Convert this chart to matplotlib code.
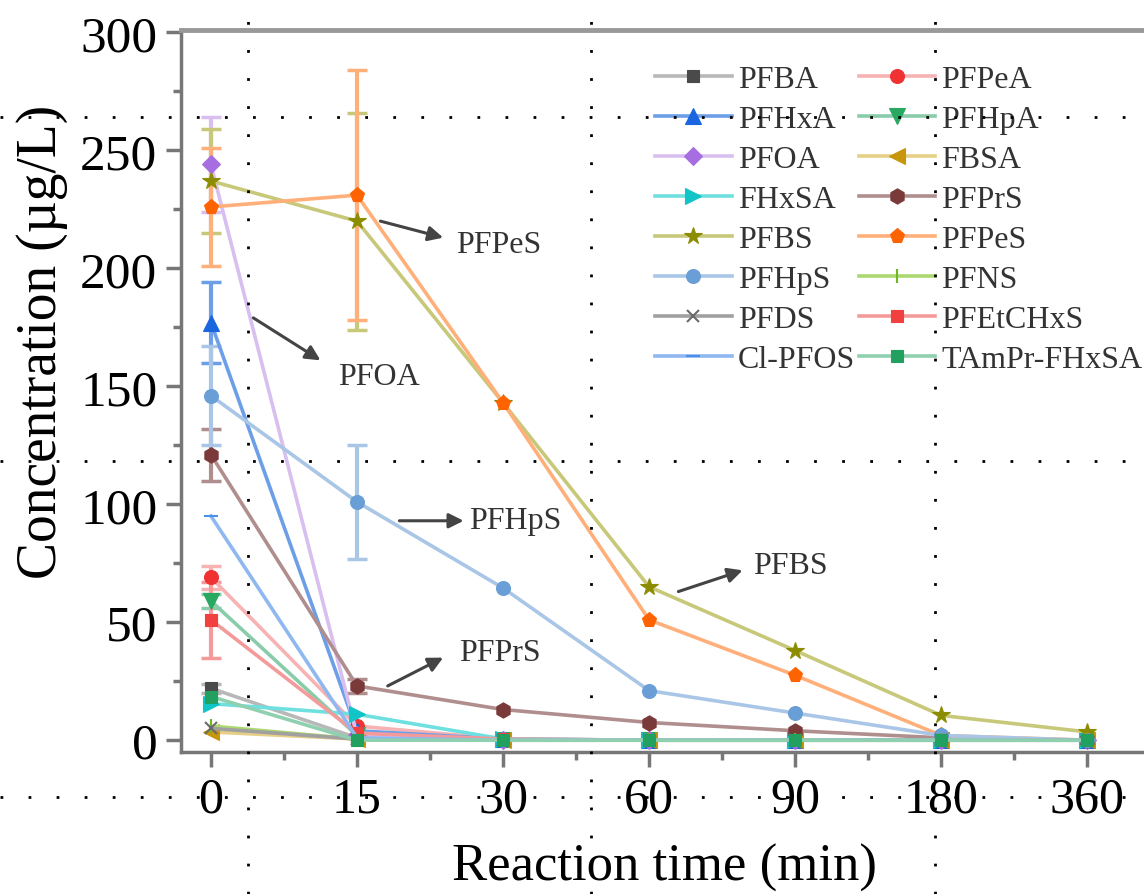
import matplotlib
matplotlib.use("Agg")
import matplotlib.pyplot as plt
from matplotlib.lines import Line2D
from matplotlib.ticker import MultipleLocator
import numpy as np

plt.rcParams['font.family'] = ['Liberation Serif', 'DejaVu Serif']

# reaction time categories (equally spaced on the axis)
times = ['0', '15', '30', '60', '90', '180', '360']

# concentrations (ug/L)
PFBA = [22, 1, 0, 0, 0, 0, 0]
PFPeA = [69, 6, 0.5, 0, 0, 0, 0]
PFHxA = [177, 4, 0.5, 0, 0, 0, 0]
PFHpA = [59, 2, 0, 0, 0, 0, 0]
PFOA = [244, 2, 0, 0, 0, 0, 0]
FBSA = [3.5, 0.5, 0, 0, 0, 0, 0]
FHxSA = [15.5, 11, 0.5, 0, 0, 0, 0]
PFPrS = [121, 23, 13, 7.5, 4, 1, 0]
PFBS = [237, 220, 143, 65, 38, 10.5, 3.5]
PFPeS = [226, 231, 143, 51, 27.5, 2, 0]
PFHpS = [146, 101, 64.5, 21, 11.5, 2, 0]
PFNS = [6, 0.5, 0, 0, 0, 0, 0]
PFDS = [5, 0.5, 0, 0, 0, 0, 0]
PFEtCHxS = [51, 3, 0.5, 0, 0, 0, 0]
Cl_PFOS = [95, 1, 0, 0, 0, 0, 0]
TAmPr_FHxSA = [18.5, 0, 0, 0, 0, 0, 0]

# error bars (0 = none drawn)
err_PFOA = [20, 0, 0, 0, 0, 0, 0]
err_PFBS = [22, 46, 0, 0, 0, 0, 0]
err_PFPeS = [25, 53, 0, 0, 0, 0, 0]
err_PFHxA = [17, 0, 0, 0, 0, 0, 0]
err_PFHpS = [21, 24, 0, 0, 0, 0, 0]
err_PFPrS = [11, 3, 0, 0, 0, 0, 0]
err_PFPeA = [5, 0, 0, 0, 0, 0, 0]
err_PFEtCHxS = [16, 0, 0, 0, 0, 0, 0]
err_PFHpA = [3, 0, 0, 0, 0, 0, 0]
err_PFBA = [2, 0, 0, 0, 0, 0, 0]
zeros = [0] * 7

# name, values, errors, marker, marker colour, line colour, marker size
series = [
    ('PFBA', PFBA, err_PFBA, 's', '#4a4a4a', '#b8b8b8', 9),
    ('PFPeA', PFPeA, err_PFPeA, 'o', '#f03232', '#f7b3b3', 10),
    ('PFHxA', PFHxA, err_PFHxA, '^', '#1a66e0', '#6c9fe8', 11),
    ('PFHpA', PFHpA, err_PFHpA, 'v', '#28a860', '#88ccaa', 11),
    ('PFOA', PFOA, err_PFOA, 'D', '#a66ee0', '#d9bff0', 9),
    ('FBSA', FBSA, zeros, '<', '#c8960a', '#e6cf86', 11),
    ('FHxSA', FHxSA, zeros, '>', '#10c4c8', '#6ee0e0', 11),
    ('PFPrS', PFPrS, err_PFPrS, 'h', '#7a3a3a', '#b08e8e', 11),
    ('PFBS', PFBS, err_PFBS, '*', '#8c8c00', '#c8c87a', 13),
    ('PFPeS', PFPeS, err_PFPeS, 'p', '#ff6300', '#ffb07a', 11),
    ('PFHpS', PFHpS, err_PFHpS, 'o', '#6a9ed6', '#a9c6e6', 10),
    ('PFNS', PFNS, zeros, '|', '#70b820', '#acd870', 10),
    ('PFDS', PFDS, zeros, 'x', '#6a6a6a', '#a0a0a0', 8),
    ('PFEtCHxS', PFEtCHxS, err_PFEtCHxS, 's', '#f04040', '#f59a9a', 9),
    ('Cl-PFOS', Cl_PFOS, zeros, '_', '#4a90e8', '#90b8f0', 10),
    ('TAmPr-FHxSA', TAmPr_FHxSA, zeros, 's', '#22a060', '#8fd0b0', 9),
]

W, H = 1144, 895
fig = plt.figure(figsize=(W / 100, H / 100), dpi=100)

# axes box in pixels: left 181, right beyond the image, top 31, bottom 753
ax = fig.add_axes([181 / W, (H - 753) / H, (1175 - 181) / W, (753 - 31) / H])
x = np.arange(len(times))

handles = []
for name, vals, errs, mk, mc, lc, ms in series:
    vals = np.array(vals, dtype=float)
    errs = np.array(errs, dtype=float)
    ln, = ax.plot(x, vals, color=lc, lw=2.6, marker=mk, ms=ms,
                  mfc=mc, mec=mc, mew=1.5 if mk in ('|', 'x', '_') else 0.8,
                  label=name, zorder=3)
    keep = errs > 0
    if keep.any():
        ax.errorbar(x[keep], vals[keep], yerr=errs[keep], fmt='none',
                    ecolor=lc, elinewidth=3, capsize=7, capthick=2.5, zorder=2)
    handles.append(ln)

ax.set_xlim(-0.205, 6.6)
ax.set_ylim(-5, 301)
ax.set_xticks(x)
ax.set_xticklabels(times)
ax.xaxis.set_minor_locator(MultipleLocator(0.5))
ax.yaxis.set_major_locator(MultipleLocator(50))
ax.yaxis.set_minor_locator(MultipleLocator(25))
ax.tick_params(axis='both', which='major', direction='out', length=11,
               width=2.5, color='#777777', labelsize=36, pad=6)
ax.tick_params(axis='both', which='minor', direction='out', length=6,
               width=2.5, color='#777777')
ax.tick_params(axis='y', labelsize=37)
for side in ('left', 'bottom', 'top', 'right'):
    ax.spines[side].set_color('#777777')
    ax.spines[side].set_linewidth(2.5)
ax.spines['top'].set_linewidth(3.5)
ax.spines['top'].set_color('#999999')

fig.text(42 / W, 1 - 342 / H, 'Concentration (\u00b5g/L)', rotation=90,
         ha='center', va='center', fontsize=40)
fig.text(664 / W, 1 - 868 / H, 'Reaction time (min)', ha='center',
         va='center', fontsize=38)

# legend, filled row by row
order = [0, 2, 4, 6, 8, 10, 12, 14, 1, 3, 5, 7, 9, 11, 13, 15]
leg = ax.legend([handles[i] for i in order], [series[i][0] for i in order],
                ncol=2, loc='upper left', bbox_to_anchor=(655 / W, 1 - 66 / H),
                bbox_transform=fig.transFigure, frameon=False, fontsize=23,
                handlelength=2.4, handletextpad=0.2, columnspacing=0.1,
                labelspacing=0.33, borderpad=0, borderaxespad=0)
for t in leg.get_texts():
    t.set_color('#333333')

# arrow annotations (head, tail, label position) in data units
notes = [
    ('PFPeS', (1.59, 213), (1.16, 220), (1.68, 210)),
    ('PFOA', (0.75, 161), (0.29, 179), (0.87, 154)),
    ('PFHpS', (1.73, 93), (1.29, 93), (1.77, 93)),
    ('PFPrS', (1.59, 35), (1.21, 23), (1.70, 37)),
    ('PFBS', (3.64, 72), (3.20, 63), (3.71, 74)),
]
for label, head, tail, pos in notes:
    ax.annotate('', xy=head, xytext=tail,
                arrowprops=dict(arrowstyle='-|>', color='#444444', lw=2.2,
                                mutation_scale=22, shrinkA=0, shrinkB=0),
                zorder=5)
    ax.text(pos[0], pos[1], label, ha='left', va='center', fontsize=23,
            color='#333333', zorder=5)

# dotted overlay grid lines across the whole picture
for px in (248, 591, 935):
    fig.add_artist(Line2D([px / W, px / W], [0, 1], color='black', lw=2,
                          dashes=(1, 9.1), dash_capstyle='butt', zorder=10))
for py in (118, 462, 798):
    fig.add_artist(Line2D([0, 1], [1 - py / H, 1 - py / H], color='black',
                          lw=2, dashes=(1, 9.1), dash_capstyle='butt',
                          zorder=10))

fig.savefig('out.png', dpi=100)
